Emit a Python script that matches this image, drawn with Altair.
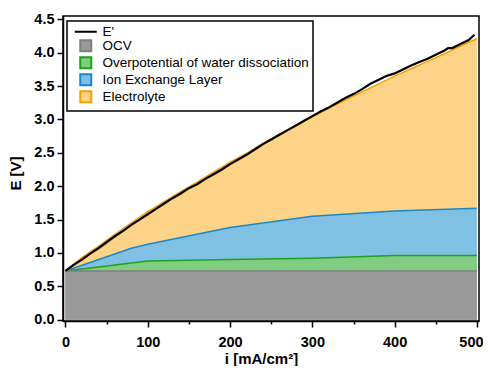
import altair as alt
import pandas as pd

# measured cell voltage E'
i_meas = [0, 10, 20, 30, 40, 50, 60, 70, 80, 90, 100, 110, 120, 130, 140, 150, 160, 170, 180, 190,
          200, 210, 220, 230, 240, 250, 260, 270, 280, 290, 300, 310, 320, 330, 340, 350, 360, 370,
          380, 390, 400, 410, 420, 430, 440, 450, 460, 465, 470, 480, 490, 497]
e_meas = [0.73, 0.82, 0.90, 0.99, 1.07, 1.16, 1.25, 1.33, 1.42, 1.50, 1.58, 1.66, 1.74, 1.82, 1.89,
          1.97, 2.03, 2.11, 2.18, 2.25, 2.33, 2.40, 2.47, 2.55, 2.63, 2.70, 2.77, 2.84, 2.91, 2.98,
          3.05, 3.12, 3.18, 3.25, 3.32, 3.38, 3.45, 3.53, 3.59, 3.65, 3.69, 3.75, 3.81, 3.86, 3.91,
          3.97, 4.03, 4.07, 4.07, 4.13, 4.19, 4.27]

# cumulative contributions
i_elec = [0, 20, 40, 60, 80, 100, 120, 140, 160, 180, 200, 220, 240, 260, 280, 300, 320, 340, 360,
          380, 400, 420, 440, 460, 480, 500]
e_elec = [0.73, 0.93, 1.10, 1.28, 1.45, 1.62, 1.77, 1.92, 2.06, 2.21, 2.36, 2.49, 2.64, 2.78, 2.91,
          3.04, 3.17, 3.29, 3.41, 3.53, 3.65, 3.76, 3.87, 3.98, 4.10, 4.21]
i_iel = [0, 80, 100, 200, 300, 400, 500]
e_iel = [0.73, 1.07, 1.13, 1.38, 1.55, 1.63, 1.67]
i_wd = [0, 80, 100, 200, 300, 400, 500]
e_wd = [0.73, 0.85, 0.88, 0.90, 0.92, 0.96, 0.96]
i_ocv = [0, 500]
e_ocv = [0.73, 0.73]

series = ["E'", "OCV", "Overpotential of water dissociation", "Ion Exchange Layer", "Electrolyte"]
fills = ["#000000", "#999999", "#80cc80", "#80c1e3", "#fdd487"]
strokes = ["#000000", "#7f7f7f", "#1f9f1f", "#1b87c9", "#f5a200"]
shapes = ["M-2,0H2", "square", "square", "square", "square"]

FONT = "Liberation Sans"

xscale = alt.Scale(domain=[-3, 502.5], nice=False, zero=False)
yscale = alt.Scale(domain=[-0.02, 4.55], nice=False, zero=False)

xaxis = alt.Axis(
    title="i [mA/cm²]",
    values=list(range(0, 501, 50)),
    labelExpr="datum.value % 100 === 0 ? datum.label : ''",
    tickSize={"condition": {"test": "datum.value % 100 === 0", "value": 6}, "value": 3},
    labelOffset={"condition": {"test": "datum.value === 500", "value": -6}, "value": 0},
    grid=False,
    titleX=198,
    titleAnchor="start",
    titleAlign="center",
)
yaxis = alt.Axis(
    title="E [V]",
    values=[0, 0.5, 1, 1.5, 2, 2.5, 3, 3.5, 4, 4.5],
    format=".1f",
    tickSize=6,
    grid=False,
    titleY=157,
    titleAnchor="start",
    titleAlign="center",
)


def area_layer(xs, ys, fill, stroke):
    df = pd.DataFrame({"i": xs, "E": ys})
    return alt.Chart(df).mark_area(
        color=fill, opacity=1,
        line=alt.OverlayMarkDef(color=stroke, strokeWidth=1.5),
    ).encode(
        x=alt.X("i:Q", scale=xscale, axis=xaxis),
        y=alt.Y("E:Q", scale=yscale, axis=yaxis),
    )


elec = area_layer(i_elec, e_elec, fills[4], strokes[4])
iel = area_layer(i_iel, e_iel, fills[3], strokes[3])
wd = area_layer(i_wd, e_wd, fills[2], strokes[2])
ocv = area_layer(i_ocv, e_ocv, fills[1], strokes[1])

meas = alt.Chart(pd.DataFrame({"i": i_meas, "E": e_meas})).mark_line(
    color="#000000", strokeWidth=2.2
).encode(
    x=alt.X("i:Q", scale=xscale, axis=xaxis),
    y=alt.Y("E:Q", scale=yscale, axis=yaxis),
)

leg = alt.Legend(
    title=None, orient="none", legendX=4, legendY=5,
    labelFont=FONT, labelFontSize=13.5, labelColor="#000000",
    strokeColor="#000000", fillColor="#ffffff",
    padding=4, rowPadding=-3, symbolSize=121, symbolStrokeWidth=2,
    symbolOffset=8, labelOffset=10, labelLimit=400,
)
df_leg = pd.DataFrame({"series": series, "i": [None] * 5, "E": [None] * 5})
legend_layer = alt.Chart(df_leg).mark_point(size=121, filled=True, opacity=1, strokeWidth=2).encode(
    x=alt.X("i:Q", scale=xscale, axis=xaxis),
    y=alt.Y("E:Q", scale=yscale, axis=yaxis),
    shape=alt.Shape("series:N", scale=alt.Scale(domain=series, range=shapes), legend=leg),
    fill=alt.Fill("series:N", scale=alt.Scale(domain=series, range=fills), legend=leg),
    stroke=alt.Stroke("series:N", scale=alt.Scale(domain=series, range=strokes), legend=leg),
)

chart = alt.layer(elec, iel, wd, ocv, meas, legend_layer).properties(
    width=416, height=305,
    autosize=alt.AutoSizeParams(type="none"),
    padding={"left": 55, "top": 8, "right": 4, "bottom": 45},
).configure_view(
    stroke="#000000", strokeWidth=1.5
).configure_legend(
    strokeWidth=1.5
).configure_axis(
    domainColor="#000000", domainWidth=1.5,
    tickColor="#000000", tickWidth=1.5,
    labelFont=FONT, labelFontSize=14.5, labelFontWeight="bold", labelColor="#000000",
    titleFont=FONT, titleFontSize=15, titleFontWeight="bold", titleColor="#000000",
).configure_axisX(
    labelPadding=8, titlePadding=3,
).configure_axisY(
    labelPadding=3, titlePadding=10,
)

chart.save("out.html", embed_options={"renderer": "svg", "actions": False})
